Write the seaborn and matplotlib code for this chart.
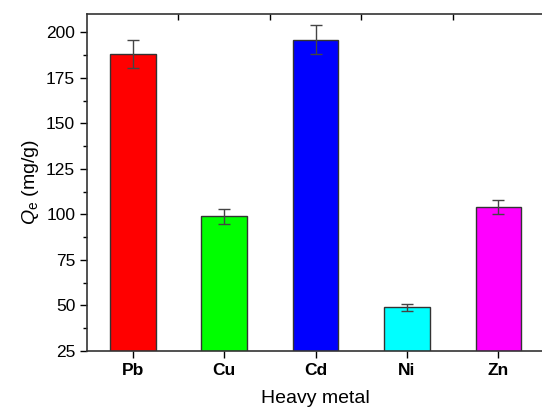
import pandas as pd
import matplotlib
matplotlib.use("Agg")
import matplotlib.pyplot as plt
import seaborn as sns
from matplotlib.ticker import MultipleLocator, FixedLocator

# data
metals = ['Pb', 'Cu', 'Cd', 'Ni', 'Zn']
qe = [188, 99, 196, 49, 104]
qe_err = [7.5, 4, 8, 2, 4]
colors = ['#FF0000', '#00FF00', '#0000FF', '#00FFFF', '#FF00FF']

sns.set_style('ticks')
plt.rcParams['font.family'] = ['Liberation Sans', 'DejaVu Sans']
plt.rcParams['mathtext.fontset'] = 'custom'
plt.rcParams['mathtext.rm'] = 'Liberation Sans'
plt.rcParams['mathtext.it'] = 'Liberation Sans:italic'
plt.rcParams['text.color'] = 'black'
plt.rcParams['axes.labelcolor'] = 'black'
plt.rcParams['xtick.color'] = 'black'
plt.rcParams['ytick.color'] = 'black'

df = pd.DataFrame({'metal': metals, 'qe': qe, 'err': qe_err})

fig = plt.figure(figsize=(5.42, 4.12), dpi=100)
ax = fig.add_axes([0.1605, 0.148, 0.8435, 0.818])

sns.barplot(data=df, x='metal', y='qe', hue='metal', palette=colors,
            saturation=1, width=0.5, edgecolor='#333333', linewidth=1.0,
            legend=False, errorbar=None, ax=ax)
ax.errorbar(range(len(metals)), df['qe'], yerr=df['err'], fmt='none',
            ecolor='#444444', elinewidth=1.0, capsize=4, capthick=1.0)

ax.set_xlim(-0.5, 4.5)
ax.set_ylim(25, 210)
ax.yaxis.set_major_locator(MultipleLocator(25))
ax.yaxis.set_minor_locator(MultipleLocator(12.5))

for side in ['left', 'bottom', 'top']:
    ax.spines[side].set_linewidth(1.2)
    ax.spines[side].set_color('#333333')
ax.spines['right'].set_visible(False)

ax.tick_params(axis='y', which='major', direction='out', length=5, width=1, labelsize=12.5)
ax.tick_params(axis='y', which='minor', direction='out', length=3, width=1)
ax.tick_params(axis='x', direction='out', length=5, width=1, labelsize=12.5)
for lbl in ax.get_xticklabels():
    lbl.set_fontweight('bold')

# top ticks between categories, pointing inward
top = ax.secondary_xaxis('top')
top.xaxis.set_major_locator(FixedLocator([0.5, 1.5, 2.5, 3.5]))
top.tick_params(direction='in', length=4, width=1, labeltop=False)
top.spines['top'].set_visible(False)

ax.set_xlabel('Heavy metal', fontsize=14, labelpad=9)
ax.set_ylabel(r'$\mathit{Q}_\mathrm{e}$ (mg/g)', fontsize=14)

fig.savefig('out.png', dpi=100)
